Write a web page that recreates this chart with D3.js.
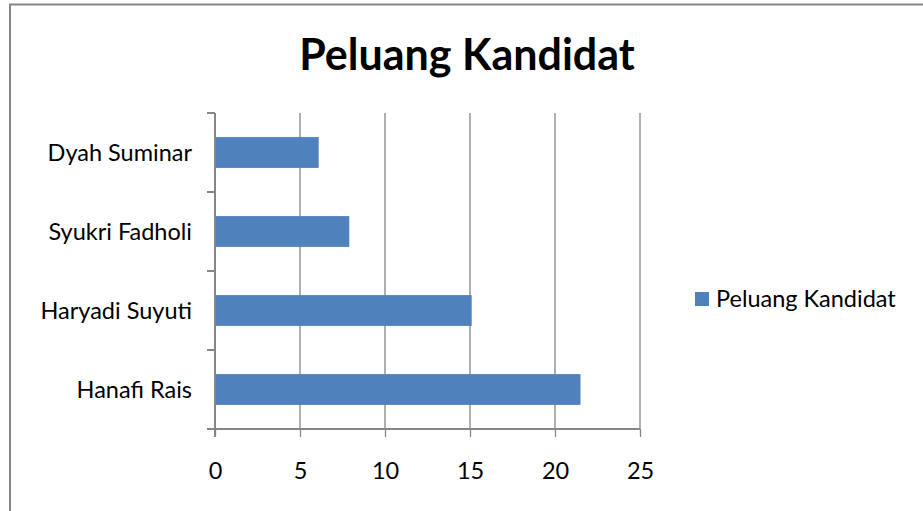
<!DOCTYPE html>
<html>
<head>
<meta charset="utf-8">
<script src="https://cdn.jsdelivr.net/npm/d3@7"></script>
<style>
body{margin:0;background:#fff}
text{font-family:Lato,"Open Sans",sans-serif;fill:#000}
</style>
</head>
<body>
<div id="chart"></div>
<script>
var w = 923
var h = 511

// data
var names = ["Hanafi Rais","Haryadi Suyuti","Syukri Fadholi","Dyah Suminar"]
var values = [21.5,15.1,7.9,6.1]
var ticks = [0,5,10,15,20,25]
var title = "Peluang Kandidat"
var seriesName = "Peluang Kandidat"

var pLeft = 215, pRight = 640, pTop = 113, pBottom = 429
var gray = "#868686"
var blue = "#4F81BD"
var fs = 23.5

var svg = d3.select("#chart").append("svg").attr("width", w).attr("height", h)

// outer frame
svg.append("rect").attr("x",10).attr("y",4.5).attr("width",w+10).attr("height",h+10)
    .attr("fill","none").attr("stroke",gray).attr("stroke-width",2)

var x = d3.scaleLinear().domain([0,25]).range([pLeft,pRight])
var y = d3.scaleBand().domain(names.slice().reverse()).range([pTop,pBottom]).paddingInner(0.61).paddingOuter(0.305)

// gridlines
svg.selectAll(".grid")
    .data(ticks.slice(1))
    .enter()
    .append("line")
    .attr("x1",function(d){return x(d)}).attr("x2",function(d){return x(d)})
    .attr("y1",pTop).attr("y2",pBottom)
    .attr("stroke",gray).attr("stroke-width",1.3)

svg.selectAll(".bar")
    .data(names)
    .enter()
    .append("rect")
    .attr("x",x(0))
    .attr("y",function(d){return y(d)})
    .attr("width",function(d,i){return x(values[i])-x(0)})
    .attr("height",y.bandwidth())
    .attr("fill",blue)

// x axis
var xAxis = svg.append("g").attr("transform","translate(0,"+pBottom+")")
    .call(d3.axisBottom(x).tickValues(ticks).tickSize(8).tickPadding(25))
xAxis.select(".domain").attr("d","M"+(pLeft-8)+",0H"+pRight).attr("stroke",gray).attr("stroke-width",2)
xAxis.selectAll(".tick line").attr("stroke",gray).attr("stroke-width",1.3)
xAxis.selectAll("text").attr("font-size",fs).attr("font-family","Lato").attr("fill","#000")

// y axis (ticks sit between categories)
var yAxis = svg.append("g").attr("transform","translate("+pLeft+",0)")
yAxis.append("line").attr("x1",0).attr("x2",0).attr("y1",pTop).attr("y2",pBottom+8)
    .attr("stroke",gray).attr("stroke-width",2)
var bounds = d3.range(names.length).map(function(i){return pTop+(pBottom-pTop)*i/names.length})
yAxis.selectAll(".ytick")
    .data(bounds)
    .enter()
    .append("line")
    .attr("x1",-8).attr("x2",0)
    .attr("y1",function(d){return d}).attr("y2",function(d){return d})
    .attr("stroke",gray).attr("stroke-width",2)
yAxis.selectAll(".ylabel")
    .data(names)
    .enter()
    .append("text")
    .attr("x",-23)
    .attr("y",function(d){return y(d)+y.bandwidth()/2})
    .attr("dy","0.35em")
    .attr("text-anchor","end")
    .attr("font-size",fs)
    .text(function(d){return d})

svg.append("text").attr("x",467).attr("y",55).attr("dy","0.35em")
    .attr("text-anchor","middle").attr("font-size",43).attr("font-weight","bold")
    .text(title)

// legend
svg.append("rect").attr("x",695).attr("y",292).attr("width",14).attr("height",14).attr("fill",blue)
svg.append("text").attr("x",716).attr("y",299).attr("dy","0.35em").attr("font-size",fs)
    .text(seriesName)
</script>
</body>
</html>
